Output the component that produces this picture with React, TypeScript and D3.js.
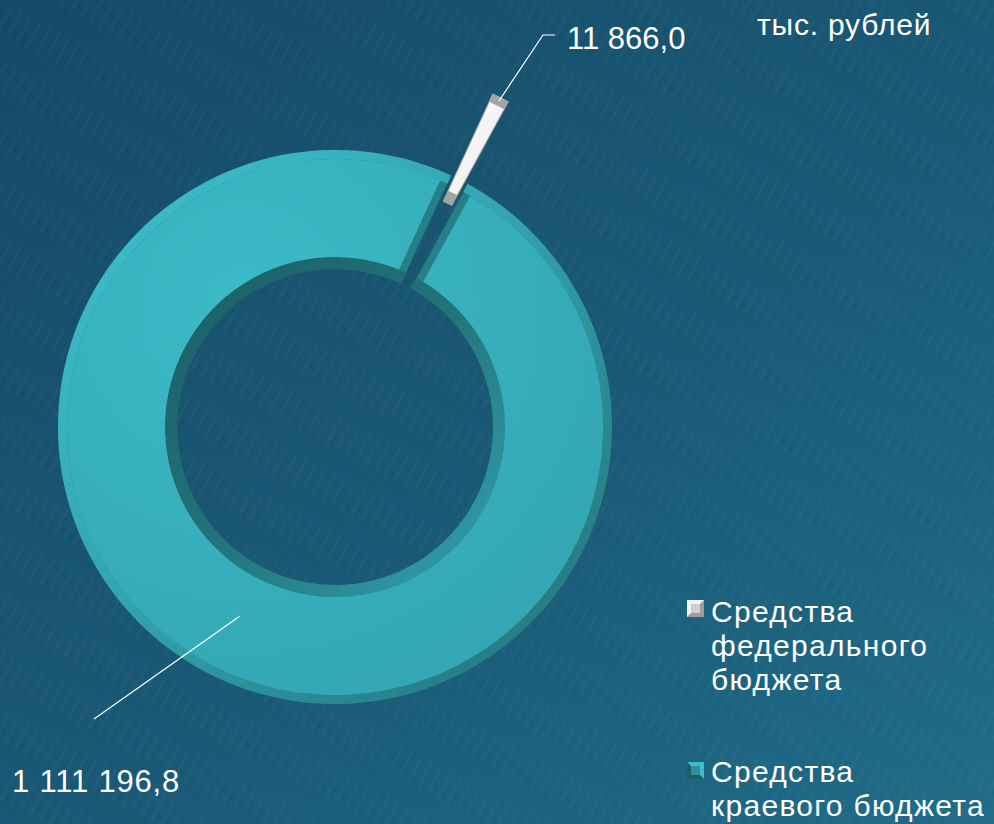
import * as d3 from 'd3';

const categories = ['Средства федерального бюджета', 'Средства краевого бюджета'];
const legendLines = [
  ['Средства', 'федерального', 'бюджета'],
  ['Средства', 'краевого бюджета'],
];
const values = [11866.0, 1111196.8];
const unitLabel = 'тыс. рублей';

const ru = d3.formatLocale({
  decimal: ',',
  thousands: '\u00a0',
  grouping: [3],
  currency: ['', ' руб.'],
});
const fmt = ru.format(',.1f');

const W = 994;
const H = 824;
const cx = 335;
const cy = 427;
const outerR = 277;
const innerR = 158;
const outerBandW = 9;
const innerBandW = 12;
const explode = 92;
const startDeg = 24.8;
const font = "'Liberation Sans', Arial, sans-serif";

export default function App() {
  const start = (startDeg * Math.PI) / 180;
  const pie = d3
    .pie<number>()
    .sort(null)
    .startAngle(start)
    .endAngle(start + 2 * Math.PI);
  const slices = pie(values);

  const baseArc = d3.arc<d3.PieArcDatum<number>>().innerRadius(innerR).outerRadius(outerR);
  const outerBand = d3
    .arc<d3.PieArcDatum<number>>()
    .innerRadius(outerR - outerBandW)
    .outerRadius(outerR);
  const innerBand = d3
    .arc<d3.PieArcDatum<number>>()
    .innerRadius(innerR)
    .outerRadius(innerR + innerBandW);
  const faceArc = d3
    .arc<d3.PieArcDatum<number>>()
    .innerRadius(innerR + innerBandW)
    .outerRadius(outerR - outerBandW)
    .padRadius(100);
  const midR = (innerR + outerR) / 2 - 6;
  const midArc = d3.arc<d3.PieArcDatum<number>>().innerRadius(midR).outerRadius(midR);

  const offsetOf = (d: d3.PieArcDatum<number>, i: number) => {
    const mid = (d.startAngle + d.endAngle) / 2;
    const off = i === 0 ? explode : 0;
    return [Math.sin(mid) * off, -Math.cos(mid) * off];
  };

  // leader for the federal slice: outer tip of the exploded slice
  const fed = slices[0];
  const fedMid = (fed.startAngle + fed.endAngle) / 2;
  const fedTip = [
    cx + Math.sin(fedMid) * (outerR + explode - 4),
    cy - Math.cos(fedMid) * (outerR + explode - 4),
  ];
  const kr = midArc.centroid(slices[1]);
  const krPt = [cx + kr[0], cy + kr[1]];

  const palettes = [
    { base: '#a4a4a4', face: 'url(#fedFace)', pad: 0.02 },
    { base: '#26808a', face: 'url(#krFace)', pad: 0.16 },
  ];

  return (
    <svg
      width={W}
      height={H}
      style={{ position: 'absolute', left: 0, top: 0, display: 'block' }}
    >
      <defs>
        <linearGradient id="bg" x1="0" y1="0" x2="1" y2="1">
          <stop offset="0%" stopColor="#164a66" />
          <stop offset="55%" stopColor="#1a5a77" />
          <stop offset="100%" stopColor="#216d8a" />
        </linearGradient>
        <pattern
          id="streaks"
          width="11"
          height="52"
          patternUnits="userSpaceOnUse"
          patternTransform="rotate(28)"
        >
          <line x1="2" y1="0" x2="2" y2="30" stroke="#ffffff" strokeOpacity="0.035" strokeWidth="1.5" />
          <line x1="7" y1="20" x2="7" y2="44" stroke="#000000" strokeOpacity="0.04" strokeWidth="1.5" />
        </pattern>
        <radialGradient id="krFace" gradientUnits="userSpaceOnUse" cx={-90} cy={-120} r={420}>
          <stop offset="0%" stopColor="#3cbac8" />
          <stop offset="100%" stopColor="#33a7b3" />
        </radialGradient>
        <linearGradient
          id="outerBevel"
          gradientUnits="userSpaceOnUse"
          x1={-outerR}
          y1={-outerR}
          x2={outerR}
          y2={outerR}
        >
          <stop offset="0%" stopColor="#3ec2d0" />
          <stop offset="45%" stopColor="#33a5b1" />
          <stop offset="100%" stopColor="#216f77" />
        </linearGradient>
        <linearGradient
          id="innerBevel"
          gradientUnits="userSpaceOnUse"
          x1={-innerR}
          y1={-innerR}
          x2={innerR}
          y2={innerR}
        >
          <stop offset="0%" stopColor="#1b5f66" />
          <stop offset="50%" stopColor="#22747c" />
          <stop offset="100%" stopColor="#32a1ad" />
        </linearGradient>
        <linearGradient id="fedFace" x1="0" y1="0" x2="1" y2="1">
          <stop offset="0%" stopColor="#ffffff" />
          <stop offset="100%" stopColor="#e8e8e8" />
        </linearGradient>
      </defs>

      <rect width={W} height={H} fill="url(#bg)" />
      <rect width={W} height={H} fill="url(#streaks)" />

      <g transform={`translate(${cx},${cy})`}>
        {slices.map((d, i) => {
          const [dx, dy] = offsetOf(d, i);
          const p = palettes[i];
          return (
            <g key={categories[i]} transform={`translate(${dx},${dy})`}>
              <path
                d={baseArc(d) || ''}
                fill={p.base}
                stroke={i === 1 ? '#1d5d66' : 'none'}
                strokeWidth={1}
              />
              {i === 1 && <path d={outerBand(d) || ''} fill="url(#outerBevel)" />}
              {i === 1 && <path d={innerBand(d) || ''} fill="url(#innerBevel)" />}
              <path d={faceArc.padAngle(p.pad)(d) || ''} fill={p.face} />
            </g>
          );
        })}
      </g>

      {/* leader lines */}
      <polyline
        points={`${fedTip[0]},${fedTip[1]} 543,35 555,35`}
        fill="none"
        stroke="#ffffff"
        strokeWidth={1.2}
      />
      <line x1={krPt[0]} y1={krPt[1]} x2={94} y2={719} stroke="#ffffff" strokeWidth={1.2} />

      <g fill="#ffffff" fontFamily={font}>
        <text x={567} y={49} fontSize={31}>
          {fmt(values[0])}
        </text>
        <text x={12} y={792} fontSize={31} letterSpacing={0.8}>
          {fmt(values[1])}
        </text>
        <text x={757} y={35} fontSize={30} letterSpacing={0.8}>
          {unitLabel}
        </text>
      </g>

      {/* legend */}
      <g fontFamily={font} fill="#ffffff" fontSize={30} letterSpacing={1.3}>
        <g transform="translate(687,600)">
          <rect width={17} height={17} fill="#9c9c9c" />
          <polygon points="0,0 17,0 0,17" fill="#f2f2f2" />
          <rect x={4} y={4} width={9} height={9} fill="#cfcfcf" />
        </g>
        <text x={711} y={622}>
          {legendLines[0].map((s, j) => (
            <tspan key={s} x={711} dy={j === 0 ? 0 : 34}>
              {s}
            </tspan>
          ))}
        </text>
        <g transform="translate(687,762)">
          <rect width={17} height={17} fill="#1c5e64" />
          <polygon points="17,0 17,17 0,0" fill="#3bbcc8" />
          <rect x={4} y={4} width={9} height={9} fill="#2c8f99" />
        </g>
        <text x={711} y={782}>
          {legendLines[1].map((s, j) => (
            <tspan key={s} x={711} dy={j === 0 ? 0 : 34}>
              {s}
            </tspan>
          ))}
        </text>
      </g>
    </svg>
  );
}
